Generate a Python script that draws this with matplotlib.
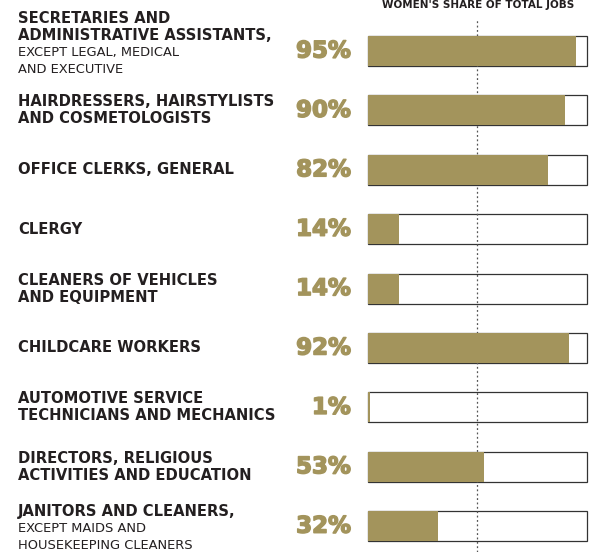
import matplotlib.pyplot as plt
import matplotlib.patheffects as pe

GOLD = '#a3945c'
TEXT = '#231f20'

shares = [95, 90, 82, 14, 14, 92, 1, 53, 32]
bold_lines = [
    ['SECRETARIES AND', 'ADMINISTRATIVE ASSISTANTS,'],
    ['HAIRDRESSERS, HAIRSTYLISTS', 'AND COSMETOLOGISTS'],
    ['OFFICE CLERKS, GENERAL'],
    ['CLERGY'],
    ['CLEANERS OF VEHICLES', 'AND EQUIPMENT'],
    ['CHILDCARE WORKERS'],
    ['AUTOMOTIVE SERVICE', 'TECHNICIANS AND MECHANICS'],
    ['DIRECTORS, RELIGIOUS', 'ACTIVITIES AND EDUCATION'],
    ['JANITORS AND CLEANERS,'],
]
small_lines = [
    ['EXCEPT LEGAL, MEDICAL', 'AND EXECUTIVE'],
    [], [], [], [], [], [], [],
    ['EXCEPT MAIDS AND', 'HOUSEKEEPING CLEANERS'],
]
title = "WOMEN'S SHARE OF TOTAL JOBS"

W, H = 611, 552
fig = plt.figure(figsize=(W / 100, H / 100), dpi=100)
plt.rcParams['font.family'] = ['DejaVu Sans']

# axes spans the full figure height, bars live in px-scaled rows
x0, x1 = 368, 587
ax = fig.add_axes([x0 / W, 0, (x1 - x0) / W, 1])
step = 59.4
top_c = 51
ylo = 8 + (H - top_c - 8 * step) / step
yhi = -top_c / step
ax.set_ylim(ylo, yhi)
ax.set_xlim(0, 100)
ax.axis('off')

bh = 30 / step
ys = list(range(len(shares)))
boxes = ax.barh(ys, [100] * len(shares), height=bh, color='white',
                edgecolor='#333333', linewidth=0.9, zorder=1)
for p in boxes:
    p.set_clip_on(False)
ax.plot([50, 50], [ylo, yhi + 20 / step], color='#555555',
        linestyle=(0, (1.5, 2)), linewidth=0.9, zorder=2)
fills = ax.barh(ys, shares, height=bh, color=GOLD, zorder=3)
for p in fills:
    p.set_clip_on(False)

thick = [pe.withStroke(linewidth=1.1, foreground=GOLD)]
for y, s in zip(ys, shares):
    ax.text(-7.8, y, f'{s}%', ha='right', va='center', fontsize=16.5,
            fontweight='bold', color=GOLD, clip_on=False, path_effects=thick)

# labels at left, in pixel units
shift = {0: -7, 8: 2}
for i in ys:
    lines = [(t, True) for t in bold_lines[i]] + [(t, False) for t in small_lines[i]]
    n = len(lines)
    cy = top_c + i * step + shift.get(i, 0)
    for k, (t, b) in enumerate(lines):
        py = cy + (k - (n - 1) / 2) * 17
        fig.text(18 / W, 1 - py / H, t, ha='left', va='center',
                 fontsize=10.6 if b else 9.4, fontweight='bold' if b else 'normal',
                 color=TEXT)

fig.text(478 / W, 1 - 0.5 / H, title, ha='center', va='top', fontsize=7.5,
         fontweight='bold', color=TEXT)

fig.savefig('out.png', dpi=100)
